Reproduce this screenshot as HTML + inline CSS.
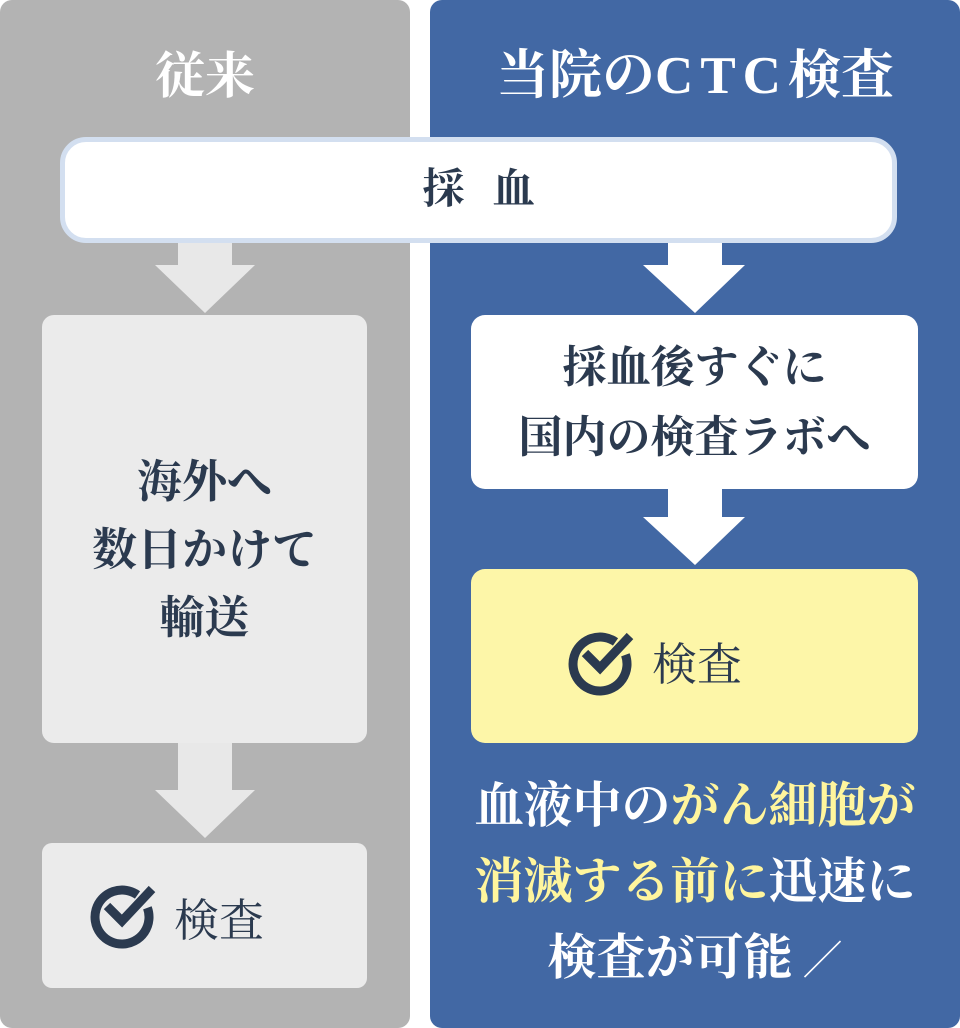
<!DOCTYPE html>
<html><head><meta charset="utf-8"><style>
*{margin:0;padding:0;box-sizing:border-box}
body{width:960px;height:1028px;background:#fff;position:relative;overflow:hidden;font-family:"Liberation Serif","Noto Serif CJK SC",serif;color:#2b3a4f}
.a{position:absolute}
.t{position:absolute;text-align:center;white-space:nowrap}
</style></head><body>
<div class="a" style="left:0;top:0;width:410px;height:1028px;background:#b3b3b3;border-radius:12px"></div>
<div class="a" style="left:430px;top:0;width:530px;height:1028px;background:#4268a4;border-radius:12px"></div>
<div class="t" style="left:0;width:410px;top:46px;font-size:50px;line-height:60px;color:#fff;font-weight:bold">従来</div>
<div class="t" style="left:430px;width:530px;top:46px;font-size:53px;line-height:60px;color:#fff;font-weight:bold">当院の<span style="letter-spacing:7px">CTC</span>検査</div>
<div class="a" style="left:60px;top:137px;width:837px;height:106px;background:#fff;border:5px solid #d3dff0;border-radius:26px"></div>
<div class="t" style="left:60px;width:837px;top:165px;font-size:42px;line-height:50px;letter-spacing:28px;padding-left:28px;font-weight:bold">採血</div>
<svg class="a" style="left:0;top:0" width="960" height="1028">
<polygon points="178,243 232,243 232,265 255,265 205,313 155,265 178,265" fill="#e8e8e8"/>
<polygon points="178,743 232,743 232,790 255,790 205,838 155,790 178,790" fill="#e8e8e8"/>
<polygon points="668,243 722,243 722,265 745,265 695,313 643,265 668,265" fill="#fff"/>
<polygon points="668,489 722,489 722,517 745,517 695,565 643,517 668,517" fill="#fff"/>
</svg>
<div class="a" style="left:42px;top:315px;width:325px;height:428px;background:#ebebeb;border-radius:12px"></div>
<div class="t" style="left:42px;width:325px;top:448px;font-size:45px;line-height:68px;font-weight:bold">海外へ<br>数日かけて<br>輸送</div>
<div class="a" style="left:42px;top:843px;width:325px;height:145px;background:#ebebeb;border-radius:10px"></div>
<div class="a" style="left:471px;top:315px;width:447px;height:174px;background:#fff;border-radius:14px"></div>
<div class="t" style="left:471px;width:447px;top:333px;font-size:44px;line-height:70px;font-weight:bold">採血後すぐに<br>国内の検査ラボへ</div>
<div class="a" style="left:471px;top:569px;width:447px;height:174px;background:#fdf6a8;border-radius:14px"></div>
<svg class="a" style="left:0;top:0" width="960" height="1028">
<g fill="none" stroke="#2b3a4f" stroke-width="9">
<path d="M625.4,654.8 A27,27 0 1 1 615.5,641.9"/>
<polyline points="585,653 600,668 630,636"/>
<g transform="translate(-478,253)">
<path d="M625.4,654.8 A27,27 0 1 1 615.5,641.9"/>
<polyline points="585,653 600,668 630,636"/>
</g>
</g>
</svg>
<div class="t" style="left:652px;top:638px;font-size:45px;line-height:54px">検査</div>
<div class="t" style="left:174px;top:894px;font-size:45px;line-height:54px">検査</div>
<div class="t" style="left:430px;width:530px;top:768px;font-size:49px;line-height:76px;color:#fff;font-weight:bold">血液中の<span style="color:#fff59d">がん細胞が</span><br><span style="color:#fff59d">消滅する前に</span>迅速に<br>検査が可能<span style="font-weight:normal;font-size:40px"> ／</span></div>
</body></html>
